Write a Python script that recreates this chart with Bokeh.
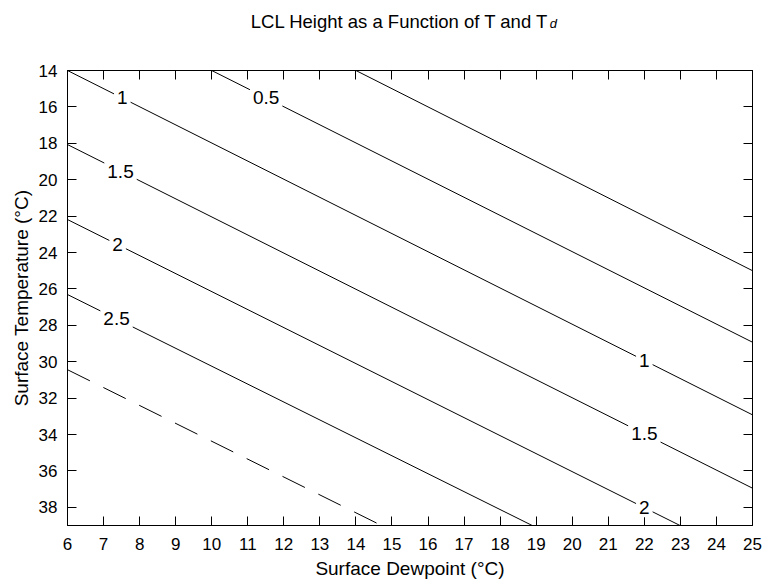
from bokeh.plotting import figure
from bokeh.layouts import column
from bokeh.models import Range1d, LinearAxis, FixedTicker, Label
from bokeh.core.properties import value
from bokeh.embed import file_html
from bokeh.resources import INLINE

FONT = "Liberation Sans"

# contour levels (LCL height, km) and the end points of each contour line
levels = [0.0, 0.5, 1.0, 1.5, 2.0, 2.5, 3.0]
td_start = [14.0, 10.0, 6.0, 6.0, 6.0, 6.0, 6.0]
t_start = [14.0, 14.0, 14.0, 18.07, 22.19, 26.31, 30.44]
td_end = [25.0, 25.0, 25.0, 25.0, 22.99, 18.89, 14.71]
t_end = [25.0, 28.93, 32.92, 36.95, 39.0, 39.0, 39.0]
dashed = [False, False, False, False, False, False, True]

# inline contour labels
label_text = ["0.5", "1", "1.5", "2", "2.5", "1", "1.5", "2"]
label_td = [11.51, 7.52, 7.47, 7.39, 7.36, 22.0, 22.0, 22.0]
label_t = [15.50, 15.51, 19.53, 23.57, 27.65, 29.93, 33.97, 38.02]

x_ticks = list(range(6, 26))
y_ticks = list(range(14, 40, 2))

title_main = "LCL Height as a Function of T and T"
title_sub = "d"
x_label = "Surface Dewpoint (°C)"
y_label = "Surface Temperature (°C)"

W = 764
TH = 40

# ---- title strip ----
t = figure(width=W, height=TH, x_range=Range1d(0, W), y_range=Range1d(0, TH),
           output_backend="svg", toolbar_location=None, x_axis_type=None, y_axis_type=None,
           min_border=0)
t.grid.visible = False
t.outline_line_color = None
t.background_fill_color = "white"
t.border_fill_color = "white"
t.text(x=[537], y=[19], text=[title_main], text_align="right", text_baseline="alphabetic",
       text_font=value(FONT), text_font_size="18.5px", text_color="black")
t.text(x=[538], y=[17], text=[title_sub], text_align="left", text_baseline="alphabetic",
       text_font=value(FONT), text_font_size="13px", text_font_style="italic", text_color="black")

# ---- main plot ----
p = figure(width=W, height=582 - TH, x_range=Range1d(6, 25), y_range=Range1d(39, 14),
           output_backend="svg", toolbar_location=None,
           min_border_left=67, min_border_right=12, min_border_top=70 - TH, min_border_bottom=57)
p.grid.visible = False
p.outline_line_color = "black"
p.outline_line_width = 1
p.background_fill_color = "white"
p.border_fill_color = "white"

p.xaxis.ticker = FixedTicker(ticks=x_ticks)
p.yaxis.ticker = FixedTicker(ticks=y_ticks)
for ax in (p.xaxis[0], p.yaxis[0]):
    ax.major_tick_in = 9
    ax.major_tick_out = 0
    ax.minor_tick_in = 0
    ax.minor_tick_out = 0
    ax.axis_line_color = "black"
    ax.major_tick_line_color = "black"
    ax.major_label_text_font = FONT
    ax.major_label_text_font_size = "17px"
    ax.major_label_text_color = "black"
    ax.axis_label_text_font = FONT
    ax.axis_label_text_font_size = "19px"
    ax.axis_label_text_font_style = "normal"
    ax.axis_label_text_color = "black"
p.xaxis.axis_label = x_label
p.yaxis.axis_label = y_label
p.xaxis.major_label_standoff = 12
p.xaxis.axis_label_standoff = 5
p.yaxis.major_label_standoff = 10
p.yaxis.axis_label_standoff = 4

for loc, ticks in (("above", x_ticks), ("right", y_ticks)):
    ax = LinearAxis(ticker=FixedTicker(ticks=ticks), major_label_text_font_size="0px",
                    major_label_text_color=None, major_label_standoff=0,
                    major_tick_in=9, major_tick_out=0, minor_tick_in=0, minor_tick_out=0,
                    axis_line_color="black", major_tick_line_color="black")
    p.add_layout(ax, loc)

for i, lev in enumerate(levels):
    p.line([td_start[i], td_end[i]], [t_start[i], t_end[i]], line_color="black",
           line_width=1, line_dash="25 15" if dashed[i] else "solid")

for txt, x, y in zip(label_text, label_td, label_t):
    p.add_layout(Label(x=x, y=y, text=txt, text_align="center", text_baseline="middle",
                       text_font=FONT, text_font_size="19px", text_color="black",
                       background_fill_color="white", padding=3))

layout = column(t, p, spacing=0)
open("out.html", "w").write(file_html(layout, INLINE))
